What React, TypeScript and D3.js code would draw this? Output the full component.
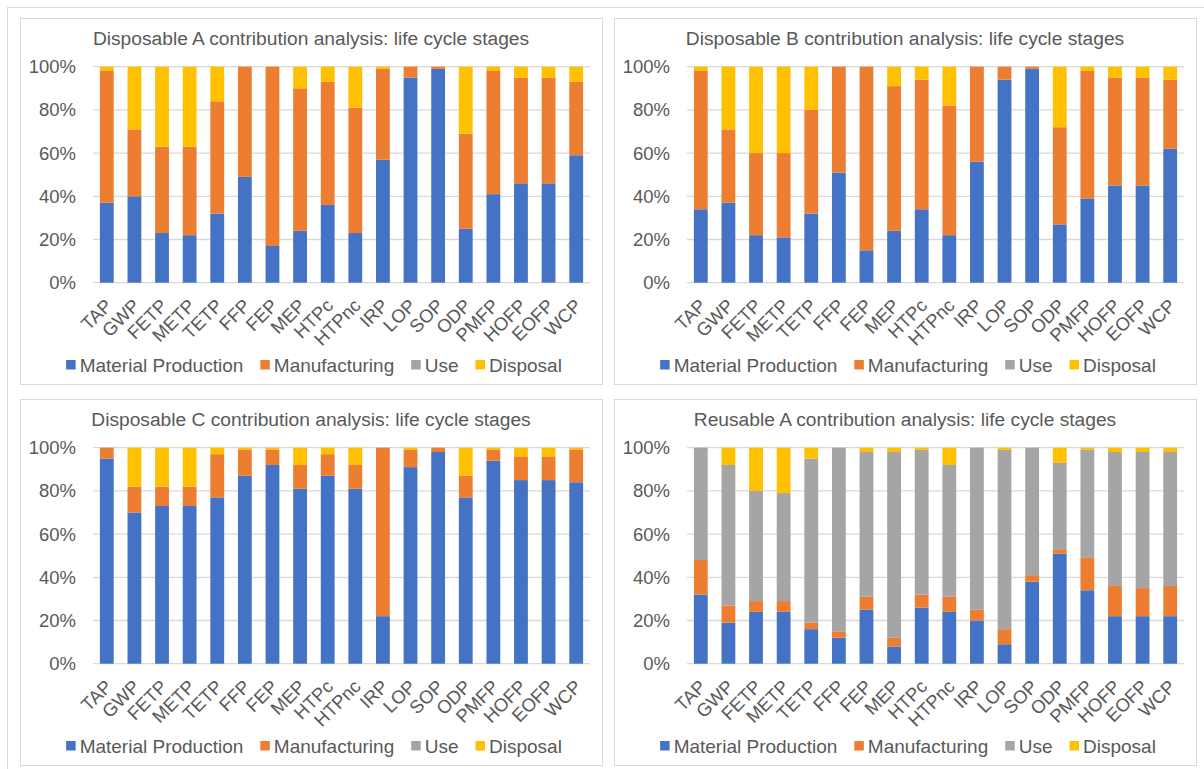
import React from "react";
import * as d3 from "d3";

// Impact categories shared by all four charts
const categories = [
  "TAP", "GWP", "FETP", "METP", "TETP", "FFP", "FEP", "MEP", "HTPc",
  "HTPnc", "IRP", "LOP", "SOP", "ODP", "PMFP", "HOFP", "EOFP", "WCP",
];

const stages = ["Material Production", "Manufacturing", "Use", "Disposal"];
const stageColors = ["#4472C4", "#ED7D31", "#A5A5A5", "#FFC000"];

const yTicks = [0, 20, 40, 60, 80, 100];

// Disposable A (% share of each life cycle stage)
const dispAMaterial = [37, 40, 23, 22, 32, 49, 17, 24, 36, 23, 57, 95, 99, 25, 41, 46, 46, 59];
const dispAManufacturing = [61, 31, 40, 41, 52, 51, 83, 66, 57, 58, 42, 5, 1, 44, 57, 49, 49, 34];
const dispAUse = [0, 0, 0, 0, 0, 0, 0, 0, 0, 0, 0, 0, 0, 0, 0, 0, 0, 0];
const dispADisposal = [2, 29, 37, 37, 16, 0, 0, 10, 7, 19, 1, 0, 0, 31, 2, 5, 5, 7];

// Disposable B
const dispBMaterial = [34, 37, 22, 21, 32, 51, 15, 24, 34, 22, 56, 94, 99, 27, 39, 45, 45, 62];
const dispBManufacturing = [64, 34, 38, 39, 48, 49, 85, 67, 60, 60, 44, 6, 1, 45, 59, 50, 50, 32];
const dispBUse = [0, 0, 0, 0, 0, 0, 0, 0, 0, 0, 0, 0, 0, 0, 0, 0, 0, 0];
const dispBDisposal = [2, 29, 40, 40, 20, 0, 0, 9, 6, 18, 0, 0, 0, 28, 2, 5, 5, 6];

// Disposable C
const dispCMaterial = [95, 70, 73, 73, 77, 87, 92, 81, 87, 81, 22, 91, 98, 77, 94, 85, 85, 84];
const dispCManufacturing = [5, 12, 9, 9, 20, 12, 7, 11, 10, 11, 78, 8, 2, 10, 5, 11, 11, 15];
const dispCUse = [0, 0, 0, 0, 0, 0, 0, 0, 0, 0, 0, 0, 0, 0, 0, 0, 0, 0];
const dispCDisposal = [0, 18, 18, 18, 3, 1, 1, 8, 3, 8, 0, 1, 0, 13, 1, 4, 4, 1];

// Reusable A
const reuseAMaterial = [32, 19, 24, 24, 16, 12, 25, 8, 26, 24, 20, 9, 38, 51, 34, 22, 22, 22];
const reuseAManufacturing = [16, 8, 5, 5, 3, 3, 6, 4, 6, 7, 5, 7, 3, 2, 15, 14, 13, 14];
const reuseAUse = [52, 65, 51, 50, 76, 85, 67, 86, 67, 61, 75, 83, 59, 40, 50, 62, 63, 62];
const reuseADisposal = [0, 8, 20, 21, 5, 0, 2, 2, 1, 8, 0, 1, 0, 7, 1, 2, 2, 2];

const FONT = "'Liberation Sans', Arial, sans-serif";
const TEXT = "#595959";
const LINE = "#D9D9D9";

const PW = 582;
const PH = 366;
const plot = { left: 73, right: PW - 12, top: 48.7, bottom: 264.7 };

function measure(text: string, size: number) {
  if (typeof document === "undefined") return text.length * size * 0.5;
  const c = document.createElement("canvas").getContext("2d");
  if (!c) return text.length * size * 0.5;
  c.font = `${size}px 'Liberation Sans', Arial, sans-serif`;
  return c.measureText(text).width;
}

type PanelProps = {
  x: number;
  y: number;
  title: string;
  series: number[][];
};

function Panel({ x, y, title, series }: PanelProps) {
  const rows = categories.map((c, i) => {
    const r: Record<string, any> = { cat: c };
    stages.forEach((s, k) => (r[s] = series[k][i]));
    return r;
  });
  const stacked = d3.stack<any>().keys(stages)(rows);

  const xs = d3.scaleBand<string>().domain(categories).range([plot.left, plot.right]).paddingInner(0.5).paddingOuter(0.25);
  const ys = d3.scaleLinear().domain([0, 100]).range([plot.bottom, plot.top]);

  // legend layout
  const legendSize = 19;
  const sq = 9.5;
  const gapText = 4;
  const gapItem = 17;
  const widths = stages.map((s) => sq + gapText + measure(s, legendSize));
  const total = d3.sum(widths) + gapItem * (stages.length - 1);
  let lx = PW / 2 + 3 - total / 2;
  const legendItems = stages.map((s, i) => {
    const item = { s, i, x: lx };
    lx += widths[i] + gapItem;
    return item;
  });

  return (
    <g transform={`translate(${x},${y})`}>
      <rect x={0.5} y={0.5} width={PW} height={PH} fill="#fff" stroke={LINE} strokeWidth={1} />
      <text x={PW / 2} y={27} textAnchor="middle" fontFamily={FONT} fontSize={19.2} fill={TEXT}>
        {title}
      </text>
      {yTicks.map((t) => (
        <g key={t}>
          <line x1={plot.left} x2={plot.right} y1={ys(t)} y2={ys(t)} stroke={LINE} strokeWidth={1.3} />
          <text x={56} y={ys(t)} dy="0.35em" textAnchor="end" fontFamily={FONT} fontSize={18.5} fill={TEXT}>
            {`${t}%`}
          </text>
        </g>
      ))}
      {stacked.map((layer, k) => (
        <g key={layer.key} fill={stageColors[k]}>
          {layer.map((d, i) =>
            d[1] - d[0] > 0 ? (
              <rect
                key={i}
                x={xs(categories[i])}
                width={xs.bandwidth()}
                y={ys(d[1])}
                height={ys(d[0]) - ys(d[1])}
              />
            ) : null
          )}
        </g>
      ))}
      {categories.map((c) => {
        const cx = (xs(c) as number) + xs.bandwidth() / 2;
        return (
          <text
            key={c}
            transform={`translate(${cx + 6.5},${plot.bottom + 24}) rotate(-45)`}
            textAnchor="end"
            fontFamily={FONT}
            fontSize={18.5}
            fill={TEXT}
          >
            {c}
          </text>
        );
      })}
      {legendItems.map(({ s, i, x: ix }) => (
        <g key={s}>
          <rect x={ix} y={342} width={sq} height={sq} fill={stageColors[i]} />
          <text x={ix + sq + gapText} y={353.5} fontFamily={FONT} fontSize={legendSize} fill={TEXT}>
            {s}
          </text>
        </g>
      ))}
    </g>
  );
}

export default function App() {
  return (
    <svg
      width={1204}
      height={769}
      style={{ position: "absolute", left: 0, top: 0, background: "#fff" }}
    >
      <rect x={0} y={0} width={1204} height={769} fill="#fff" />
      <line x1={7} x2={1204} y1={7.5} y2={7.5} stroke={LINE} />
      <line x1={7.5} x2={7.5} y1={7} y2={769} stroke={LINE} />
      <Panel
        x={20}
        y={18}
        title="Disposable A contribution analysis: life cycle stages"
        series={[dispAMaterial, dispAManufacturing, dispAUse, dispADisposal]}
      />
      <Panel
        x={614}
        y={18}
        title="Disposable B contribution analysis: life cycle stages"
        series={[dispBMaterial, dispBManufacturing, dispBUse, dispBDisposal]}
      />
      <Panel
        x={20}
        y={399}
        title="Disposable C contribution analysis: life cycle stages"
        series={[dispCMaterial, dispCManufacturing, dispCUse, dispCDisposal]}
      />
      <Panel
        x={614}
        y={399}
        title="Reusable A contribution analysis: life cycle stages"
        series={[reuseAMaterial, reuseAManufacturing, reuseAUse, reuseADisposal]}
      />
    </svg>
  );
}
